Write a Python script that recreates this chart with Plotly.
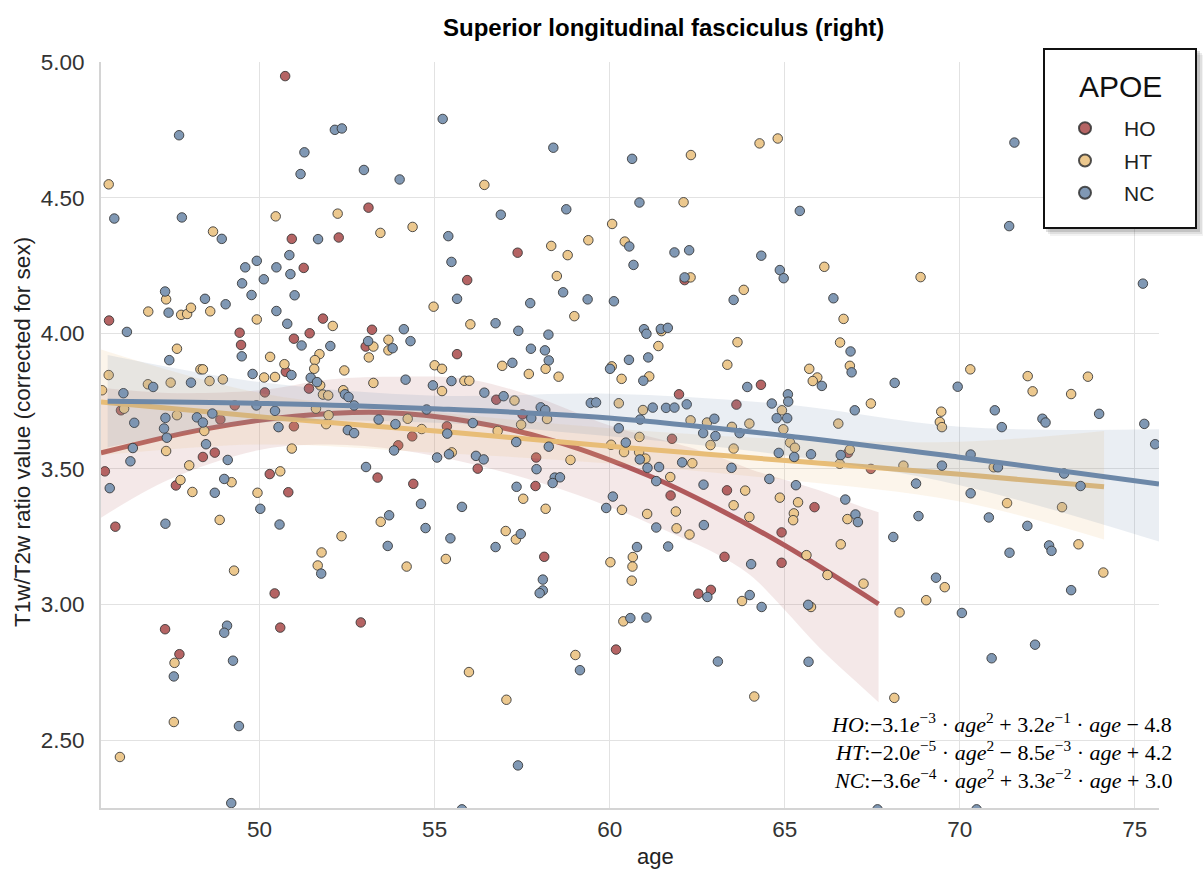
import plotly.graph_objects as go

# ---------------- data ----------------
ho_age = [50.73, 53.11, 50.92, 52.26, 51.26, 57.37, 55.93, 62.14,
          45.70, 51.81, 49.43, 49.47, 51.43, 50.98, 50.75, 53.21, 53.03, 50.15, 51.41, 46.04, 48.88, 49.29, 50.98, 55.35,
          55.64, 56.76, 57.51, 64.32, 61.98, 63.62,
          45.58, 45.88, 48.72, 48.38, 47.61, 50.29, 50.82, 54.36, 53.96, 53.37, 54.39,
          56.23, 57.90, 57.88, 58.13, 61.78, 61.74, 63.35, 63.28, 64.91, 64.91,
          66.81, 67.46, 65.85,
          50.43, 47.30, 50.59, 52.89, 47.71,
          60.18, 62.53, 62.89]
ho_val = [4.948, 4.463, 4.348, 4.353, 4.241, 4.297, 4.196, 4.196,
          4.047, 4.054, 4.002, 3.957, 4.000, 3.980, 3.858, 4.013, 3.951, 3.782, 3.796, 3.716, 3.682, 3.734, 3.657, 3.657,
          3.923, 3.755, 3.701, 3.810, 3.775, 3.737,
          3.491, 3.287, 3.560, 3.544, 3.439, 3.481, 3.414, 3.620, 3.587, 3.468, 3.445,
          3.501, 3.542, 3.437, 3.176, 3.611, 3.402, 3.421, 3.176, 3.266, 3.154,
          3.559, 3.500, 3.359,
          3.041, 2.909, 2.915, 2.934, 2.817,
          2.834, 3.040, 3.054]

ht_age = [45.69, 48.67, 50.46, 52.23, 53.45, 54.37, 56.42, 58.33, 58.80, 59.39, 58.49,
          62.32, 64.28, 64.80, 62.11, 60.07, 60.43, 66.13, 68.88, 62.31,
          47.33, 46.82, 47.76, 47.93, 48.04, 48.59, 49.92, 52.09, 47.64, 50.30, 51.71, 51.58, 50.71, 51.56, 45.69,
          48.31, 48.38, 50.13, 50.44, 52.42, 53.25, 53.68, 53.68, 53.12, 54.97, 55.00, 55.21, 55.21, 53.25, 46.81,
          47.46, 48.57, 48.95, 45.50, 51.73, 51.81, 51.96, 52.39, 46.13, 47.64, 48.42, 51.61, 51.90, 51.97, 54.23, 54.63,
          58.99, 56.02, 56.93, 57.69, 58.17, 58.54, 55.85, 55.99, 57.28, 58.21, 57.47, 61.48, 61.39, 60.06, 60.34,
          61.13, 63.83, 63.65, 63.36, 64.92, 64.96, 60.26, 60.95, 62.31, 62.78, 63.49, 63.99,
          66.68, 66.58, 66.86, 65.70, 65.93, 65.80, 67.46, 66.53, 69.47, 69.43, 69.49, 70.30, 71.94, 72.08, 73.18, 73.66,
          47.33, 47.99, 47.74, 48.08, 49.20, 48.86, 49.27, 49.94, 50.59, 50.92, 55.49, 53.46, 52.34, 51.77, 51.66, 54.20, 55.32,
          56.80, 58.88, 57.53, 58.17, 57.03, 57.32, 60.35, 60.02, 60.66, 60.65, 60.63, 60.85, 60.04, 60.41, 60.84, 61.02,
          61.73, 61.89, 61.07, 61.91, 62.28, 62.36, 62.88, 63.54, 63.87, 63.54, 63.99, 64.86, 65.38, 65.26, 65.24, 65.15, 65.29,
          66.86, 66.57, 68.39, 70.97, 71.35, 72.92, 66.79, 66.60, 73.39, 74.10, 65.62, 66.22,
          47.57, 47.55, 46.01, 55.98, 57.05, 59.02,
          60.39, 63.78, 64.13, 65.75, 67.25, 69.57, 69.04, 68.28, 68.13]
ht_val = [4.549, 4.375, 4.431, 4.441, 4.370, 4.392, 4.547, 4.322, 4.288, 4.343, 4.211,
          4.657, 4.700, 4.718, 4.483, 4.403, 4.338, 4.245, 4.207, 4.206,
          4.125, 4.080, 4.068, 4.071, 4.094, 4.081, 4.051, 4.027, 3.943, 3.913, 3.923, 3.901, 3.886, 3.869, 3.846,
          3.867, 3.867, 3.837, 3.839, 3.863, 3.951, 3.976, 3.937, 3.911, 4.098, 3.882, 3.869, 3.787, 3.817, 3.812,
          3.818, 3.824, 3.830, 3.790, 3.808, 3.774, 3.771, 3.790, 3.722, 3.698, 3.640, 3.722, 3.665, 3.698, 3.685, 3.647,
          4.063, 4.033, 3.880, 3.850, 3.869, 3.840, 3.825, 3.825, 3.752, 3.684, 3.663, 4.008, 3.953, 3.878, 3.832,
          3.841, 4.160, 3.967, 3.884, 3.716, 3.646, 3.742, 3.717, 3.679, 3.671, 3.655, 3.667,
          4.053, 3.966, 3.880, 3.869, 3.837, 3.824, 3.741, 3.667, 3.711, 3.673, 3.654, 3.867, 3.842, 3.786, 3.776, 3.840,
          3.566, 3.513, 3.459, 3.415, 3.451, 3.312, 3.125, 3.412, 3.491, 3.575, 3.561, 3.305, 3.252, 3.192, 3.144, 3.140, 3.168,
          3.640, 3.533, 3.390, 3.353, 3.271, 3.240, 3.349, 3.156, 3.175, 3.140, 3.088, 3.618, 3.589, 3.562, 3.562, 3.538,
          3.470, 3.343, 3.334, 3.281, 3.258, 3.521, 3.588, 3.575, 3.420, 3.366, 3.323, 3.394, 3.377, 3.336, 3.311, 3.597, 3.578,
          3.571, 3.519, 3.512, 3.506, 3.374, 3.359, 3.315, 3.222, 3.222, 3.118, 3.182, 3.109,
          2.785, 2.567, 2.438, 2.751, 2.649, 2.814,
          2.938, 3.013, 2.661, 2.991, 3.077, 3.064, 3.016, 2.971, 2.656]

nc_age = [45.85, 47.70, 47.78, 52.15, 52.35, 51.28, 51.17, 52.98, 54.00, 48.92, 51.67, 50.85, 49.92, 49.59, 50.48,
          50.88, 50.12, 55.23, 58.39, 56.89, 58.76, 55.39, 55.48,
          60.64, 71.56, 60.85, 65.43, 60.56, 61.85, 62.27, 60.68, 64.33, 71.41, 64.86, 64.97, 62.14,
          49.50, 47.30, 48.44, 49.77, 51.00, 47.40, 49.03, 46.21, 50.48, 50.79, 49.49, 50.91, 51.20, 52.02, 47.42,
          49.80, 53.10, 53.80, 54.12, 54.31, 55.48, 54.95, 54.17, 46.96, 48.04, 46.11, 51.46, 51.64, 52.44, 52.54,
          52.70, 46.42, 47.31, 47.27, 48.21, 48.38, 48.65, 49.91, 50.44, 50.54, 52.52, 53.40, 53.88, 54.77,
          55.64, 57.73, 58.67, 59.37, 60.12, 56.74, 57.39, 58.25, 57.75, 58.15, 58.26, 57.22, 56.42, 56.97, 58.03,
          58.16, 57.76, 56.09, 60.98, 61.05, 61.46, 61.66, 61.10, 60.55, 60.01, 60.96, 63.54, 63.93, 62.20, 64.63,
          65.09, 65.10, 64.77, 65.07, 59.46, 59.61, 61.23, 61.61, 61.85, 62.99, 60.26, 60.87,
          75.23, 66.39, 66.88, 66.91, 66.06, 68.14, 67.00, 69.94, 71.00, 71.20, 72.36, 72.45, 73.98, 75.27,
          47.35, 46.38, 46.31, 45.72, 48.47, 49.09, 48.72, 48.99, 47.31, 50.02, 50.57, 52.70, 53.84, 55.07, 55.41,
          55.36, 53.04, 54.61, 53.70, 54.74, 53.66, 51.76, 55.45,
          57.33, 58.26, 56.18, 56.40, 57.91, 58.43, 58.58, 58.37, 57.34, 55.78, 57.46, 56.74, 58.09, 60.09, 59.90,
          60.78, 60.46, 60.86, 61.08, 61.41, 61.33, 61.33, 61.67, 62.69, 62.07, 62.68, 62.67, 63.02, 63.71, 63.48,
          64.04, 64.56, 64.83, 65.32, 65.27,
          65.75, 66.60, 69.49, 68.75, 70.31, 71.09, 72.98, 73.45, 70.31, 75.58, 66.73, 67.02, 67.09, 68.82, 70.83,
          71.93, 68.10, 71.42, 72.55, 72.62, 69.32,
          49.07, 48.99, 47.55, 49.24, 49.41, 49.19, 55.78, 58.09, 58.00, 57.38, 59.15,
          60.59, 61.05, 62.79, 64.00, 64.34, 63.09, 65.67, 65.68, 70.06, 70.91, 72.15, 73.18, 67.65, 70.48]
nc_val = [4.423, 4.730, 4.427, 4.750, 4.755, 4.667, 4.587, 4.602, 4.567, 4.348, 4.347, 4.288, 4.267, 4.243, 4.243,
          4.218, 4.199, 4.790, 4.684, 4.437, 4.457, 4.358, 4.263,
          4.643, 4.703, 4.482, 4.451, 4.320, 4.298, 4.306, 4.252, 4.286, 4.395, 4.233, 4.203, 4.206,
          4.184, 4.154, 4.127, 4.141, 4.140, 4.076, 4.107, 4.005, 4.082, 4.035, 3.915, 3.846, 3.955, 3.953, 3.901,
          3.850, 3.971, 3.945, 4.015, 3.971, 3.824, 3.808, 3.829, 3.802, 3.818, 3.779, 3.836, 3.820, 3.775, 3.765,
          3.734, 3.670, 3.688, 3.649, 3.690, 3.671, 3.704, 3.734, 3.714, 3.654, 3.643, 3.682, 3.665, 3.719,
          4.127, 4.111, 4.151, 4.125, 4.118, 4.037, 4.009, 3.995, 3.943, 3.937, 3.900, 3.891, 3.781, 3.768, 3.727,
          3.717, 3.687, 3.669, 4.015, 3.998, 4.016, 4.020, 3.911, 3.902, 3.869, 3.825, 4.123, 3.802, 3.738, 3.741,
          3.775, 3.748, 3.687, 3.687, 3.743, 3.745, 3.726, 3.725, 3.726, 3.685, 3.650, 3.682,
          4.183, 4.129, 3.933, 3.856, 3.806, 3.817, 3.716, 3.803, 3.716, 3.654, 3.685, 3.671, 3.703, 3.666,
          3.615, 3.577, 3.528, 3.429, 3.591, 3.533, 3.412, 3.463, 3.298, 3.353, 3.295, 3.632, 3.568, 3.542, 3.554,
          3.630, 3.507, 3.371, 3.329, 3.282, 3.216, 3.114, 3.244,
          3.599, 3.582, 3.548, 3.535, 3.499, 3.468, 3.469, 3.448, 3.434, 3.360, 3.260, 3.212, 3.092, 3.398, 3.356,
          3.212, 3.597, 3.535, 3.504, 3.507, 3.455, 3.284, 3.214, 3.293, 3.524, 3.442, 3.632, 3.621, 3.632, 3.504,
          3.149, 3.463, 3.559, 3.440, 3.544,
          3.554, 3.551, 3.512, 3.446, 3.553, 3.506, 3.483, 3.437, 3.410, 3.591, 3.387, 3.332, 3.304, 3.326, 3.321,
          3.290, 3.249, 3.191, 3.218, 3.198, 3.099,
          2.922, 2.896, 2.735, 2.793, 2.552, 2.268, 2.245, 3.052, 3.042, 2.407, 2.758,
          2.950, 2.952, 3.028, 3.035, 2.991, 2.790, 2.999, 2.789, 2.969, 2.802, 2.852, 3.053, 2.245, 2.245]

# fitted curves and confidence bands
ho_fit_age = [45.47, 48.31, 51.0, 53.5, 56.0, 58.5, 61.12, 63.02, 65.0, 67.68]
ho_fit_val = [3.559, 3.644, 3.694, 3.708, 3.675, 3.600, 3.475, 3.358, 3.218, 3.002]
ho_band_age = [45.47, 47.4, 50.0, 52.0, 54.0, 56.0, 58.0, 60.0, 62.0, 63.0, 64.0, 65.0, 66.0, 67.0, 67.68]
ho_band_hi = [3.80, 3.78, 3.79, 3.83, 3.84, 3.83, 3.76, 3.66, 3.59, 3.55, 3.50, 3.46, 3.42, 3.37, 3.34]
ho_band_lo = [3.32, 3.46, 3.57, 3.59, 3.57, 3.52, 3.45, 3.36, 3.25, 3.19, 3.11, 2.98, 2.84, 2.72, 2.64]

ht_fit_age = [45.47, 50.21, 55.57, 60.5, 65.5, 70.0, 74.12]
ht_fit_val = [3.747, 3.690, 3.634, 3.578, 3.526, 3.480, 3.434]
ht_band_age = [45.47, 50.0, 55.0, 60.0, 65.0, 70.0, 74.12]
ht_band_hi = [3.94, 3.78, 3.71, 3.65, 3.61, 3.60, 3.64]
ht_band_lo = [3.55, 3.59, 3.56, 3.52, 3.46, 3.38, 3.24]

nc_fit_age = [45.66, 50.21, 54.95, 59.98, 65.39, 69.94, 75.69]
nc_fit_val = [3.749, 3.741, 3.722, 3.688, 3.617, 3.544, 3.444]
nc_band_age = [45.66, 50.0, 55.0, 60.0, 65.0, 70.0, 75.69]
nc_band_hi = [3.92, 3.82, 3.77, 3.777, 3.738, 3.655, 3.646]
nc_band_lo = [3.58, 3.67, 3.67, 3.62, 3.55, 3.44, 3.232]

x_ticks = [50, 55, 60, 65, 70, 75]
y_ticks = [2.5, 3.0, 3.5, 4.0, 4.5, 5.0]
y_ticktext = ["2.50", "3.00", "3.50", "4.00", "4.50", "5.00"]

groups = [
    ("HO", ho_age, ho_val, ho_fit_age, ho_fit_val, ho_band_age, ho_band_hi, ho_band_lo,
     "#b56464", "#b05a5c", "rgba(176,90,92,0.14)"),
    ("HT", ht_age, ht_val, ht_fit_age, ht_fit_val, ht_band_age, ht_band_hi, ht_band_lo,
     "#ecc88e", "#e8bd77", "rgba(232,189,119,0.15)"),
    ("NC", nc_age, nc_val, nc_fit_age, nc_fit_val, nc_band_age, nc_band_hi, nc_band_lo,
     "#8098b4", "#6d88a8", "rgba(109,136,168,0.14)"),
]

fig = go.Figure()
for name, ax, av, fx, fv, bx, bhi, blo, mcol, lcol, bcol in groups:
    fig.add_trace(go.Scatter(
        x=ax, y=av, mode="markers", name=name, legendgroup=name,
        marker=dict(size=9.5, color=mcol, line=dict(color="rgba(50,50,50,0.85)", width=1)),
    ))
    fig.add_trace(go.Scatter(
        x=bx, y=blo, mode="lines", line=dict(width=0, shape="spline"),
        showlegend=False, hoverinfo="skip",
    ))
    fig.add_trace(go.Scatter(
        x=bx, y=bhi, mode="lines", fill="tonexty", fillcolor=bcol,
        line=dict(width=0, shape="spline"), showlegend=False, hoverinfo="skip",
    ))
    fig.add_trace(go.Scatter(
        x=fx, y=fv, mode="lines", line=dict(color=lcol, width=5, shape="spline", smoothing=1),
        showlegend=False, hoverinfo="skip",
    ))

L, R, T, B = 101, 44, 62, 62
W, H = 1203, 870
pw, ph = W - L - R, H - T - B

def px(xp):
    return (xp - L) / pw

def py(yp):
    return (H - B - yp) / ph

annotations = [
    dict(text="<b>Superior longitudinal fasciculus (right)</b>", x=px(663), y=py(27),
         xref="paper", yref="paper", showarrow=False, xanchor="center", yanchor="middle",
         font=dict(family="Liberation Sans, Arial", size=24, color="#000")),
    dict(text="age", x=px(655), y=py(856), xref="paper", yref="paper", showarrow=False,
         xanchor="center", yanchor="middle",
         font=dict(family="Liberation Sans, Arial", size=22, color="#222")),
    dict(text="T1w/T2w ratio value (corrected for sex)", x=px(22), y=py(432), xref="paper",
         yref="paper", showarrow=False, textangle=-90, xanchor="center", yanchor="middle",
         font=dict(family="Liberation Sans, Arial", size=22.5, color="#222")),
    # legend title, drawn inside the legend frame below
    dict(text="APOE", x=px(1120), y=py(86), xref="paper", yref="paper", showarrow=False,
         xanchor="center", yanchor="middle",
         font=dict(family="Liberation Sans, Arial", size=30, color="#111")),
]
eqs = [
    "<i>HO</i>:−3.1<i>e</i><sup>−3</sup> · <i>age</i><sup>2</sup> + 3.2<i>e</i><sup>−1</sup> · <i>age</i> − 4.8",
    "<i>HT</i>:−2.0<i>e</i><sup>−5</sup> · <i>age</i><sup>2</sup> − 8.5<i>e</i><sup>−3</sup> · <i>age</i> + 4.2",
    "<i>NC</i>:−3.6<i>e</i><sup>−4</sup> · <i>age</i><sup>2</sup> + 3.3<i>e</i><sup>−2</sup> · <i>age</i> + 3.0",
]
for txt, yy in zip(eqs, [723, 751, 779]):
    annotations.append(dict(text=txt, x=px(1174), y=py(yy), xref="paper", yref="paper",
                            showarrow=False, xanchor="right", yanchor="middle",
                            font=dict(family="Liberation Serif, Times New Roman, serif", size=22, color="#000")))

# legend frame: soft shadow + white box with dark border
shapes = []
for off, a in [(8, 0.05), (6, 0.08), (4, 0.12)]:
    shapes.append(dict(type="rect", xref="paper", yref="paper",
                       x0=px(1044 + off - 2), x1=px(1196 + off), y0=py(228 + off), y1=py(49 + off - 2),
                       fillcolor="rgba(0,0,0,%s)" % a, line=dict(width=0), layer="above"))
shapes.append(dict(type="rect", xref="paper", yref="paper",
                   x0=px(1044), x1=px(1196), y0=py(228), y1=py(49),
                   fillcolor="white", line=dict(color="#111", width=2), layer="above"))

fig.update_layout(
    width=W, height=H, autosize=False,
    margin=dict(l=L, r=R, t=T, b=B, autoexpand=False),
    plot_bgcolor="white", paper_bgcolor="white",
    font=dict(family="Liberation Sans, Arial", color="#222"),
    annotations=annotations, shapes=shapes,
    legend=dict(
        font=dict(size=21, color="#222"),
        x=px(1046), xanchor="left", y=py(108), yanchor="top",
        bgcolor="rgba(0,0,0,0)", borderwidth=0,
        tracegroupgap=2, itemsizing="constant", itemwidth=68,
    ),
    xaxis=dict(range=[45.47, 75.69], tickvals=x_ticks, showgrid=True, gridcolor="#e2e2e2",
               gridwidth=1.3, zeroline=False, showline=True, linecolor="#d4d4d4", linewidth=2,
               ticks="", tickfont=dict(size=22.5, color="#333"), ticklabelstandoff=0),
    yaxis=dict(range=[2.25, 5.0], tickvals=y_ticks, ticktext=y_ticktext, showgrid=True,
               gridcolor="#e2e2e2", gridwidth=1.3, zeroline=False, showline=True,
               linecolor="#d4d4d4", linewidth=2, ticks="", tickfont=dict(size=22.5, color="#333"),
               ticklabelstandoff=10),
)

fig.write_html("out.html", config={"displayModeBar": False},
               post_script="document.body.style.margin='0px';document.body.style.overflow='hidden';")
